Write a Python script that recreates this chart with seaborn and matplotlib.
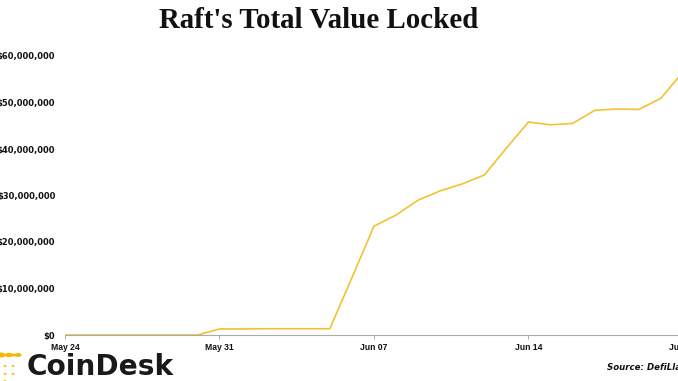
import numpy as np
import pandas as pd
import matplotlib
matplotlib.use("Agg")
import matplotlib.pyplot as plt
import matplotlib.dates as mdates
import seaborn as sns
from matplotlib.patches import Circle

# ---- data ----
dates = pd.date_range("2023-05-24", "2023-06-21", freq="D")
tvl_millions = [0, 0, 0, 0, 0, 0, 0,
                1.3, 1.3, 1.35, 1.35, 1.35, 1.35,
                12.3, 23.4, 25.8, 29.0, 31.0, 32.5, 34.4, 40.2,
                45.8, 45.2, 45.5, 48.3, 48.6, 48.5, 50.9, 56.6]
tick_dates = ["2023-05-24", "2023-05-31", "2023-06-07", "2023-06-14", "2023-06-21"]
y_ticks = [0, 10_000_000, 20_000_000, 30_000_000, 40_000_000, 50_000_000, 60_000_000]

df = pd.DataFrame({"date": dates, "tvl": np.array(tvl_millions) * 1e6})

sns.set_theme(style="white")
plt.rcParams["font.family"] = ["DejaVu Sans"]

W, H = 678, 381
fig = plt.figure(figsize=(W / 100, H / 100), dpi=100)
fig.patch.set_facecolor("white")

# axes: x from 65px, Jun 21 at ~683px ; y: 0 at 335px, 60M at 56px
px_per_day = 22.07
x0 = 65
xr = 692
days_span = (xr - x0) / px_per_day
ax = fig.add_axes([x0 / W, 1 - 335 / H, (xr - x0) / W, (335 - 56) / H])
ax.set_facecolor("white")

sns.lineplot(data=df, x="date", y="tvl", ax=ax, color="#f2c232", linewidth=1.2)

start = pd.Timestamp("2023-05-24")
ax.set_xlim(start, start + pd.Timedelta(days=days_span))
ax.set_ylim(0, 60_000_000)

ax.set_xticks(pd.to_datetime(tick_dates))
ax.xaxis.set_major_formatter(mdates.DateFormatter("%b %d"))
ax.set_yticks(y_ticks)
ax.set_yticklabels(["$" + f"{v:,.0f}" for v in y_ticks])

for lab in ax.get_yticklabels():
    lab.set_fontweight("bold")
    lab.set_fontsize(6)
    lab.set_color("#111111")
for lab in ax.get_xticklabels():
    lab.set_fontweight("bold")
    lab.set_fontsize(6.2)
    lab.set_family(["Liberation Sans"])
    lab.set_color("#111111")

ax.tick_params(axis="x", length=3, width=0.6, color="#999999", pad=2.5, bottom=True)
ax.tick_params(axis="y", length=0, pad=7)
ax.set_xlabel("")
ax.set_ylabel("")
for s in ["top", "right", "left"]:
    ax.spines[s].set_visible(False)
ax.spines["bottom"].set_color("#aaaaaa")
ax.spines["bottom"].set_linewidth(0.8)
ax.grid(False)

# title
fig.text(319 / W, 1 - 21 / H, "Raft's Total Value Locked", ha="center", va="center",
         fontsize=20.8, fontweight="bold", family=["Liberation Serif"], color="#111111")

# source
fig.text(607 / W, 1 - 367 / H, "Source: DefiLlama", ha="left", va="center",
         fontsize=6.2, fontweight="bold", style="italic", color="#111111")

# CoinDesk logo
fig.text(27 / W, 1 - 367 / H, "CoinDesk", ha="left", va="center",
         fontsize=20.2, fontweight="bold", color="#1a1a1a")
gold = "#f5b800"
for (cx, cy, r) in [(1, 355, 4.5), (9, 355, 4.0), (14, 355, 2.5), (18, 355, 3.5),
                    (5, 366, 1.6), (13, 366, 1.6),
                    (5, 374, 1.6), (13, 374, 1.6), (5, 381, 1.6)]:
    fig.patches.append(Circle((cx / W, 1 - cy / H), r / W, transform=fig.transFigure,
                              facecolor=gold, edgecolor="none"))

fig.savefig("out.png", dpi=100)
